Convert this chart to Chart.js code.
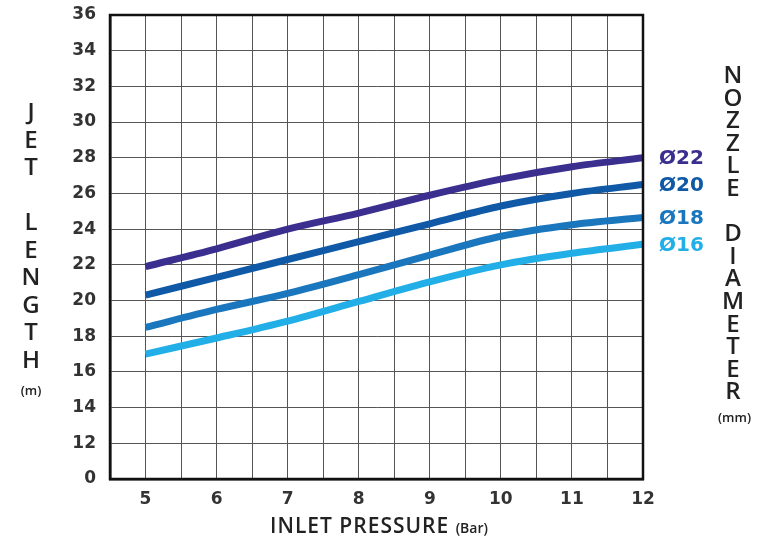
<!DOCTYPE html>
<html>
<head>
<meta charset="utf-8">
<script src="https://cdn.jsdelivr.net/npm/chart.js@4"></script>
<style>
  body { margin: 0; background: #fff; font-family: "Open Sans", sans-serif; }
  #wrap { position: relative; width: 758px; height: 542px; }
  .stack { position: absolute; text-align: center; color: #222; font-weight: 600; font-size: 24px; line-height: 27.5px; }
  .small { font-size: 13px; font-weight: 600; }
  #xtitle { position: absolute; left: 0; width: 758px; top: 511px; text-align: center; font-size: 21px; font-weight: 600; letter-spacing: 1px; color: #222; }
</style>
</head>
<body>
<div id="wrap">
  <canvas id="myChart" width="758" height="542"></canvas>
  <div class="stack" style="left:17px; top:97px; width:28px;">J<br>E<br>T<br><br>L<br>E<br>N<br>G<br>T<br>H<br><span class="small">(m)</span></div>
  <div class="stack" style="left:718px; top:63px; width:30px; line-height:22.6px;">N<br>O<br>Z<br>Z<br>L<br>E<br><br>D<br>I<br>A<br>M<br>E<br>T<br>E<br>R<br><span class="small">(mm)</span></div>
  <div id="xtitle">INLET PRESSURE <span style="font-size:14px; letter-spacing:0;">(Bar)</span></div>
</div>
<script>
const pressure = [5, 6, 7, 8, 9, 10, 11, 12];
const nozzle22 = [21.9, 22.9, 24.0, 24.9, 25.9, 26.8, 27.5, 28.0];
const nozzle20 = [20.3, 21.3, 22.3, 23.3, 24.3, 25.3, 26.0, 26.5];
const nozzle18 = [18.5, 19.5, 20.4, 21.45, 22.55, 23.6, 24.25, 24.65];
const nozzle16 = [17.0, 17.9, 18.85, 19.95, 21.05, 22.0, 22.65, 23.15];
const seriesLabels = ["Ø22", "Ø20", "Ø18", "Ø16"];
const seriesColors = ["#3a2f8f", "#0f59a6", "#1a77bd", "#22aee6"];

const toPoints = (ys) => ys.map((y, i) => ({ x: pressure[i], y: y }));

// frame + end labels
const extras = {
  id: "extras",
  afterDatasetsDraw(chart) {
    const { ctx, chartArea } = chart;
    ctx.save();
    ctx.strokeStyle = "#111";
    ctx.lineWidth = 2.5;
    ctx.strokeRect(chartArea.left, chartArea.top, chartArea.right - chartArea.left, chartArea.bottom - chartArea.top);
    ctx.font = "bold 20px 'DejaVu Sans'";
    ctx.textBaseline = "middle";
    chart.data.datasets.forEach((ds, i) => {
      const meta = chart.getDatasetMeta(i);
      const last = meta.data[meta.data.length - 1];
      ctx.fillStyle = seriesColors[i];
      ctx.fillText(seriesLabels[i], chartArea.right + 16, last.y + 1);
    });
    ctx.restore();
  },
};

const tickFont = { family: "DejaVu Sans", size: 17, weight: "bold" };

const ctx = document.getElementById("myChart");
new Chart(ctx, {
  type: "line",
  data: {
    datasets: [nozzle22, nozzle20, nozzle18, nozzle16].map((d, i) => ({
      label: seriesLabels[i],
      data: toPoints(d),
      borderColor: seriesColors[i],
      borderWidth: 7,
      pointRadius: 0,
      cubicInterpolationMode: "monotone",
      borderCapStyle: "butt",
    })),
  },
  options: {
    responsive: false,
    animation: false,
    layout: { padding: { left: 0, right: 115, top: 15, bottom: 0 } },
    plugins: { legend: { display: false }, tooltip: { enabled: false } },
    scales: {
      x: {
        type: "linear",
        min: 4.5,
        max: 12,
        afterBuildTicks: (s) => {
          s.ticks = [];
          for (let v = 4.5; v <= 12; v += 0.5) s.ticks.push({ value: v });
        },
        afterFit: (s) => { s.height = 63; s.paddingLeft = 0; s.paddingRight = 0; },
        ticks: {
          autoSkip: false,
          maxRotation: 0,
          padding: 10,
          color: "#333",
          font: tickFont,
          callback: (v) => (v >= 5 && v % 1 === 0 ? v : ""),
        },
        grid: { color: "#555", lineWidth: 1, drawTicks: false },
        border: { color: "#111", width: 2.5 },
      },
      y: {
        min: 10,
        max: 36,
        afterBuildTicks: (s) => {
          s.ticks = [];
          for (let v = 10; v <= 36; v += 2) s.ticks.push({ value: v });
        },
        afterFit: (s) => { s.width = 110; s.paddingTop = 0; s.paddingBottom = 0; },
        ticks: {
          padding: 14,
          color: "#333",
          font: tickFont,
          callback: (v) => (v === 10 ? "0" : v),
        },
        grid: { color: "#555", lineWidth: 1, drawTicks: false },
        border: { color: "#111", width: 2.5 },
      },
    },
  },
  plugins: [extras],
});
</script>
</body>
</html>
